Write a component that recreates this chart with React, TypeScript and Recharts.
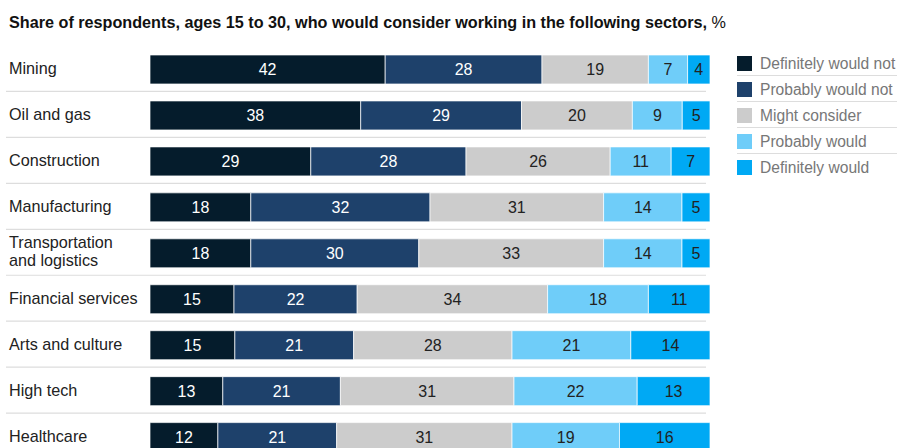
import React from 'react';
import { BarChart, Bar, XAxis, YAxis, Legend, LabelList } from 'recharts';

const FONT = '"Liberation Sans", Arial, sans-serif';

const sectors = [
  'Mining',
  'Oil and gas',
  'Construction',
  'Manufacturing',
  'Transportation and logistics',
  'Financial services',
  'Arts and culture',
  'High tech',
  'Healthcare',
];
const definitelyNot = [42, 38, 29, 18, 18, 15, 15, 13, 12];
const probablyNot = [28, 29, 28, 32, 30, 22, 21, 21, 21];
const mightConsider = [19, 20, 26, 31, 33, 34, 28, 31, 31];
const probablyWould = [7, 9, 11, 14, 14, 18, 21, 22, 19];
const definitelyWould = [4, 5, 7, 5, 5, 11, 14, 13, 16];

const series = [
  { key: 'dn', name: 'Definitely would not', color: '#051C2C', text: '#ffffff' },
  { key: 'pn', name: 'Probably would not', color: '#1E416B', text: '#ffffff' },
  { key: 'mc', name: 'Might consider', color: '#CCCCCC', text: '#222222' },
  { key: 'pw', name: 'Probably would', color: '#6FCDF9', text: '#222222' },
  { key: 'dw', name: 'Definitely would', color: '#00A9F4', text: '#222222' },
];

const data = sectors.map((name, i) => ({
  name,
  dn: definitelyNot[i],
  pn: probablyNot[i],
  mc: mightConsider[i],
  pw: probablyWould[i],
  dw: definitelyWould[i],
}));

const TOP = 47;
const BAND = 45.95;
const CHART_H = TOP + BAND * sectors.length + 7;

const orderOf = (name: string) => series.findIndex((s) => s.name === name);

function SectorTick(props: any) {
  const { y, payload, index } = props;
  const label: string = payload.value;
  const cut = label.indexOf(' ');
  const lines = label.length > 20 ? [label.slice(0, cut), label.slice(cut + 1)] : [label];
  return (
    <g>
      {lines.length === 1 ? (
        <text x={9} y={y} dy={4} fill="#222" fontSize={16.2} fontFamily={FONT} textAnchor="start">
          {label}
        </text>
      ) : (
        <text x={9} y={y} fill="#222" fontSize={16.2} fontFamily={FONT} textAnchor="start">
          <tspan x={9} dy={-6}>{lines[0]}</tspan>
          <tspan x={9} dy={18.5}>{lines[1]}</tspan>
        </text>
      )}
      {index < sectors.length - 1 && (
        <line x1={6} x2={706} y1={y + BAND / 2 - 1.5} y2={y + BAND / 2 - 1.5} stroke="#dddddd" strokeWidth={1.2} />
      )}
    </g>
  );
}

function LegendList(props: any) {
  const items = [...(props.payload || [])].sort((a: any, b: any) => orderOf(a.value) - orderOf(b.value));
  return (
    <div style={{ fontFamily: FONT }}>
      {items.map((p: any, i: number) => {
        const s = series[orderOf(p.value)];
        return (
          <div
            key={p.value}
            style={{
              display: 'flex',
              alignItems: 'flex-start',
              height: 19,
              marginBottom: 6,
              borderBottom: i < items.length - 1 ? '1px solid #dddddd' : 'none',
            }}
          >
            <span style={{ width: 15, height: 15, background: s ? s.color : p.color, marginRight: 8, flex: 'none' }} />
            <span style={{ fontSize: 15.6, lineHeight: '16px', color: '#777', whiteSpace: 'nowrap' }}>{p.value}</span>
          </div>
        );
      })}
    </div>
  );
}

export default function App() {
  return (
    <div style={{ position: 'absolute', left: 0, top: 0, width: 897, height: 448, overflow: 'hidden', background: '#fff' }}>
      <div
        style={{
          position: 'absolute',
          left: 9,
          top: 12,
          fontFamily: FONT,
          fontSize: 16.2,
          lineHeight: '20px',
          color: '#111',
          whiteSpace: 'nowrap',
        }}
      >
        <b>Share of respondents, ages 15 to 30, who would consider working in the following sectors,</b> %
      </div>
      <BarChart
        width={897}
        height={CHART_H}
        data={data}
        layout="vertical"
        stackOffset="expand"
        margin={{ top: TOP, right: 27, bottom: 7, left: 0 }}
      >
        <XAxis type="number" domain={[0, 1]} hide />
        <YAxis type="category" dataKey="name" width={150} axisLine={false} tickLine={false} tick={<SectorTick />} interval={0} />
        <Legend
          layout="vertical"
          align="right"
          verticalAlign="top"
          width={160}
          itemSorter={(item: any) => orderOf(item.value)}
          wrapperStyle={{ top: 56, left: 737, right: 'auto' }}
          content={<LegendList />}
        />
        {series.map((s) => (
          <Bar
            key={s.key}
            dataKey={s.key}
            name={s.name}
            stackId="a"
            fill={s.color}
            stroke="#ffffff"
            strokeOpacity={0.7}
            strokeWidth={1}
            barSize={29}
            isAnimationActive={false}
          >
            <LabelList dataKey={s.key} position="center" fill={s.text} fontSize={16} fontFamily={FONT} />
          </Bar>
        ))}
      </BarChart>
    </div>
  );
}
